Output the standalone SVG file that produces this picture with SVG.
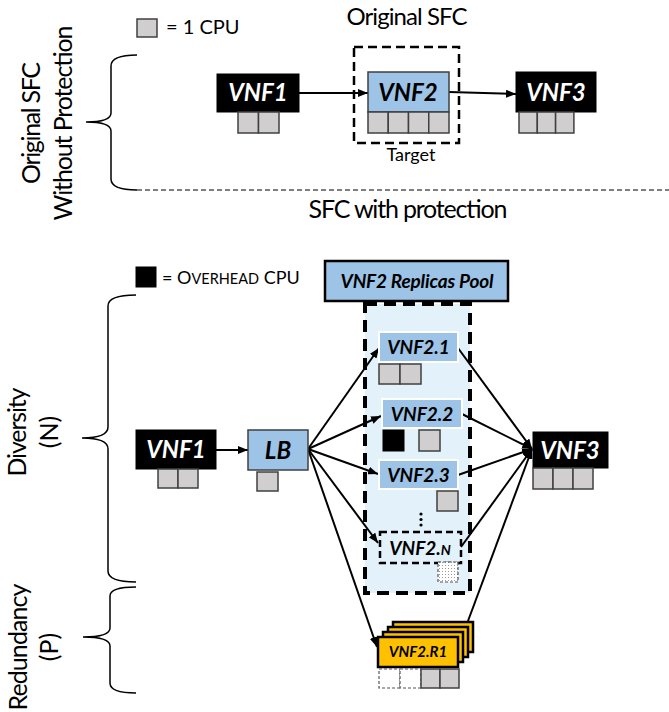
<svg xmlns="http://www.w3.org/2000/svg" width="669" height="712" viewBox="0 0 669 712">
<style>
text{font-family:Lato,"Open Sans","Liberation Sans",sans-serif;fill:#000}
.nb{font-weight:bold;font-style:italic;text-anchor:middle}
.w{fill:#fff}
.cpu{fill:#D0CECE;stroke:#404040;stroke-width:1.5}
.blk{fill:#000;stroke:#000}
.blue{fill:#9DC3E6;stroke:#404040;stroke-width:1.5}
.rep{fill:#9DC3E6;stroke:#fff;stroke-width:2}
.con{stroke:#000;stroke-width:2;fill:none}
.brace{stroke:#000;stroke-width:1.5;fill:none}
.card{fill:#FFC000;stroke:#000;stroke-width:2.5}
.ghost{fill:#fff;stroke:#555;stroke-width:1.2;stroke-dasharray:3 2}
</style>
<defs>
<marker id="ah" markerUnits="userSpaceOnUse" markerWidth="10" markerHeight="8" refX="10" refY="4" orient="auto">
<path d="M0,0 L10,4 L0,8 Z" fill="#000"/>
</marker>
<pattern id="dots" width="3" height="3" patternUnits="userSpaceOnUse">
<rect width="3" height="3" fill="#fff"/>
<rect x="1" y="1" width="1" height="1" fill="#999"/>
</pattern>
</defs>

<!-- Top legend and labels -->
<g id="legend-cpu">
<rect class="cpu" x="137" y="19" width="20" height="18"/>
<text x="166" y="34" font-size="20">= 1 CPU</text>
</g>
<text x="407" y="25" font-size="24" text-anchor="middle" textLength="121">Original SFC</text>
<g id="label-original" transform="translate(40,123) rotate(-90)">
<text x="0" y="0" font-size="25" text-anchor="middle" textLength="122">Original SFC</text>
<text x="0" y="32" font-size="25" text-anchor="middle" textLength="195">Without Protection</text>
</g>
<path class="brace" d="M137,55 Q111,55 111,66 L111,113 Q111,122 86,122 Q111,122 111,131 L111,179 Q111,190 137,190"/>
<line x1="137" y1="190" x2="669" y2="190" stroke="#000" stroke-width="1" stroke-dasharray="5 3"/>
<text x="408" y="218" font-size="25" text-anchor="middle" textLength="199">SFC with protection</text>

<!-- Top connectors -->
<g id="connectors-top">
<line class="con" x1="299" y1="93" x2="368" y2="93" marker-end="url(#ah)"/>
<line class="con" x1="449" y1="92" x2="516" y2="94" marker-end="url(#ah)"/>
</g>

<g id="top-vnf1">
<rect class="blk" x="217" y="74" width="82" height="38"/>
<text class="nb w" x="258" y="101" font-size="24">VNF1</text>
<rect class="cpu" x="238" y="112" width="20.5" height="21"/>
<rect class="cpu" x="258.5" y="112" width="20.5" height="21"/>
</g>
<g id="top-target">
<rect x="354" y="47" width="105" height="96" fill="none" stroke="#000" stroke-width="2.5" stroke-dasharray="9 5"/>
<text x="411" y="161" font-size="18" text-anchor="middle">Target</text>
</g>
<g id="top-vnf2">
<rect class="blue" x="368" y="72" width="81" height="40"/>
<text class="nb" x="408" y="101" font-size="24">VNF2</text>
<rect class="cpu" x="368" y="112" width="20.25" height="21"/>
<rect class="cpu" x="388.25" y="112" width="20.25" height="21"/>
<rect class="cpu" x="408.5" y="112" width="20.25" height="21"/>
<rect class="cpu" x="428.75" y="112" width="20.25" height="21"/>
</g>
<g id="top-vnf3">
<rect class="blk" x="516" y="72" width="80" height="40"/>
<text class="nb w" x="556" y="101" font-size="24">VNF3</text>
<rect class="cpu" x="519" y="112" width="18.3" height="21"/>
<rect class="cpu" x="537.3" y="112" width="18.3" height="21"/>
<rect class="cpu" x="555.6" y="112" width="18.3" height="21"/>
</g>

<!-- Bottom legend and labels -->
<g id="legend-overhead">
<rect class="blk" x="136" y="267" width="20" height="20"/>
<text x="162" y="284" font-size="18">= O<tspan font-size="14.5">VERHEAD</tspan> CPU</text>
</g>
<g id="label-diversity" transform="translate(26,432) rotate(-90)">
<text x="0" y="0" font-size="25" text-anchor="middle" textLength="89">Diversity</text>
<text x="0" y="32" font-size="25" text-anchor="middle">(N)</text>
</g>
<g id="label-redundancy" transform="translate(27,647) rotate(-90)">
<text x="0" y="0" font-size="25" text-anchor="middle" textLength="127">Redundancy</text>
<text x="0" y="31" font-size="25" text-anchor="middle">(P)</text>
</g>
<path class="brace" d="M136,295 Q108,295 108,306 L108,427 Q108,438 82,438 Q108,438 108,449 L108,571 Q108,582 136,582"/>
<path class="brace" d="M136,587 Q110,587 110,596 L110,628 Q110,637 83,637 Q110,637 110,646 L110,683 Q110,693 136,693"/>

<g id="pool-label">
<rect x="325" y="261" width="183" height="40" fill="#9DC3E6" stroke="#000" stroke-width="2.5"/>
<text class="nb" x="417" y="288" font-size="19" textLength="153">VNF2 Replicas Pool</text>
</g>
<g id="pool">
<rect x="365" y="304" width="105" height="289" fill="#E3F1FA" stroke="#000" stroke-width="4" stroke-dasharray="12 7"/>
</g>

<!-- Bottom connectors -->
<g id="connectors-bottom">
<line class="con" x1="216" y1="450" x2="248" y2="450" marker-end="url(#ah)"/>
<line class="con" x1="308" y1="449" x2="379" y2="348" marker-end="url(#ah)"/>
<line class="con" x1="308" y1="449" x2="381" y2="416" marker-end="url(#ah)"/>
<line class="con" x1="308" y1="449" x2="378" y2="474" marker-end="url(#ah)"/>
<line class="con" x1="308" y1="449" x2="378" y2="543" marker-end="url(#ah)"/>
<line class="con" x1="308" y1="449" x2="377" y2="647" marker-end="url(#ah)"/>
<line class="con" x1="458" y1="348" x2="532" y2="449" marker-end="url(#ah)"/>
<line class="con" x1="462" y1="414" x2="532" y2="449" marker-end="url(#ah)"/>
<line class="con" x1="458" y1="475" x2="532" y2="449" marker-end="url(#ah)"/>
<line class="con" x1="461" y1="547" x2="532" y2="449" marker-end="url(#ah)"/>
<line class="con" x1="468" y1="621" x2="532" y2="449" marker-end="url(#ah)"/>
</g>

<g id="bot-vnf1">
<rect class="blk" x="136" y="430" width="80" height="39"/>
<text class="nb w" x="176" y="458" font-size="24">VNF1</text>
<rect class="cpu" x="158" y="469" width="20" height="19"/>
<rect class="cpu" x="178" y="469" width="20" height="19"/>
</g>
<g id="lb">
<rect class="blue" x="248" y="430" width="60" height="40"/>
<text class="nb" x="278" y="459" font-size="24">LB</text>
<rect class="cpu" x="257" y="472" width="21" height="19"/>
</g>
<g id="bot-vnf3">
<rect class="blk" x="533" y="432" width="75" height="36"/>
<text class="nb w" x="570" y="459" font-size="24">VNF3</text>
<rect class="cpu" x="533" y="468" width="20" height="21"/>
<rect class="cpu" x="553" y="468" width="20" height="21"/>
<rect class="cpu" x="573" y="468" width="20" height="21"/>
</g>

<g id="vnf2-1">
<rect class="rep" x="379" y="332" width="79" height="30"/>
<text class="nb" x="418.5" y="354" font-size="19">VNF2.1</text>
<rect class="cpu" x="379" y="364" width="21" height="20"/>
<rect class="cpu" x="400" y="364" width="21" height="20"/>
</g>
<g id="vnf2-2">
<rect class="rep" x="382" y="399" width="80" height="29"/>
<text class="nb" x="422" y="421" font-size="19">VNF2.2</text>
<rect class="blk" x="383" y="430" width="21" height="21"/>
<rect class="cpu" x="419" y="430" width="21" height="21"/>
</g>
<g id="vnf2-3">
<rect class="rep" x="379" y="460" width="79" height="29"/>
<text class="nb" x="418.5" y="482" font-size="19">VNF2.3</text>
<rect class="cpu" x="437" y="491" width="21" height="20"/>
</g>
<g id="ellipsis">
<circle cx="421" cy="514" r="1.6" fill="#000"/>
<circle cx="421" cy="519.5" r="1.6" fill="#000"/>
<circle cx="421" cy="525" r="1.6" fill="#000"/>
</g>
<g id="vnf2-n">
<rect x="380" y="532" width="81" height="31" fill="none" stroke="#000" stroke-width="2.5" stroke-dasharray="7 4"/>
<text class="nb" x="420" y="555" font-size="19">VNF2.<tspan font-size="14">N</tspan></text>
<rect x="438" y="562" width="20" height="20" fill="url(#dots)" stroke="#555" stroke-width="1.2" stroke-dasharray="3 2"/>
</g>
<g id="vnf2-r1">
<rect class="card" x="393" y="622" width="80" height="30"/>
<rect class="card" x="388" y="627" width="80" height="30"/>
<rect class="card" x="383" y="632" width="80" height="30"/>
<rect class="card" x="378" y="637" width="80" height="30"/>
<text class="nb" x="418" y="657" font-size="15">VNF2.R1</text>
<rect class="ghost" x="379" y="669" width="21" height="19"/>
<rect class="ghost" x="400" y="669" width="21" height="19"/>
<rect class="cpu" x="421" y="669" width="19" height="19"/>
<rect class="cpu" x="440" y="669" width="19" height="19"/>
</g>
</svg>
